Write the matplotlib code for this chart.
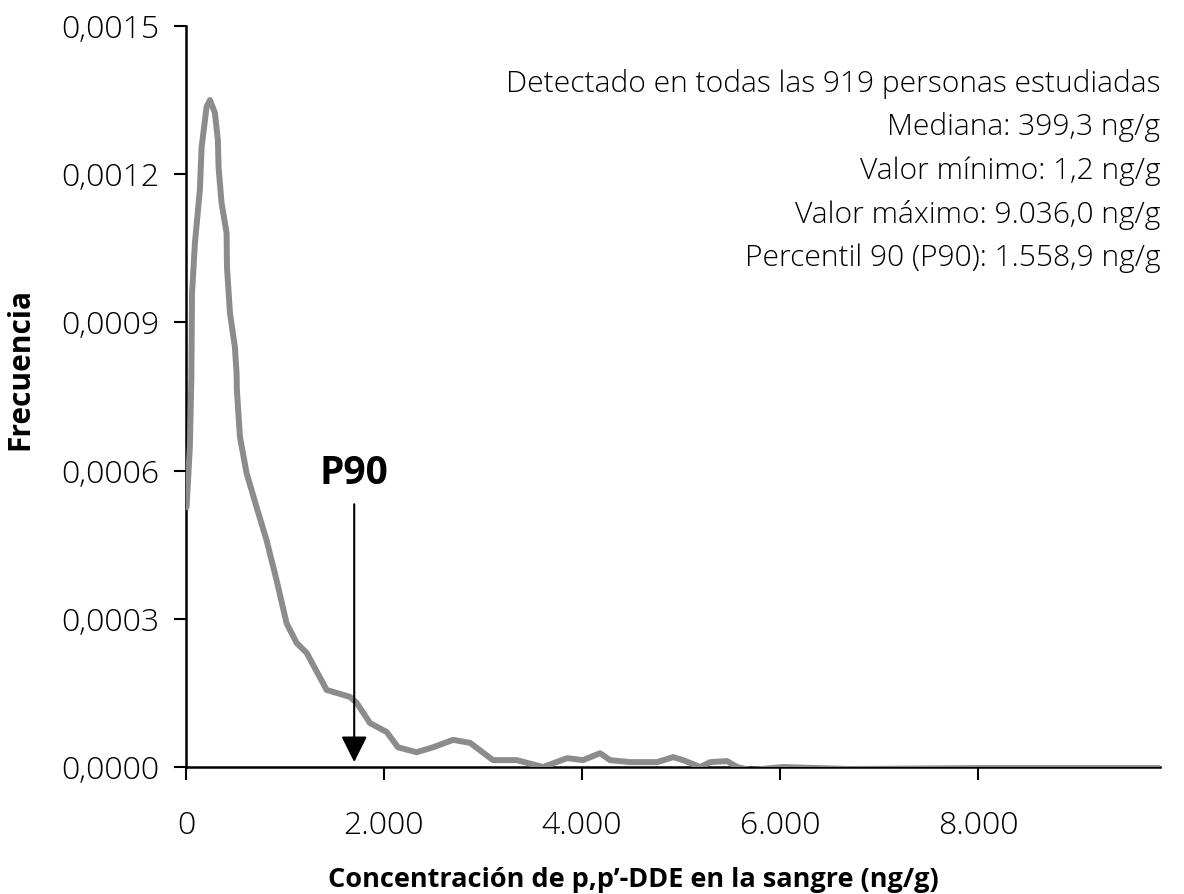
import matplotlib.pyplot as plt
from matplotlib.ticker import FuncFormatter

plt.rcParams['font.family'] = ['Open Sans', 'DejaVu Sans']

# curva de densidad
conc = [7, 40, 55, 62, 91, 141, 159, 209, 243, 293, 323, 330, 360, 411, 415,
        445, 495, 512, 515, 546, 613, 714, 815, 916, 1017, 1119, 1220, 1422,
        1523, 1657, 1725, 1859, 2028, 2142, 2331, 2496, 2698, 2870, 3102, 3341,
        3607, 3850, 4011, 4183, 4284, 4486, 4759, 4921, 5022, 5194, 5295, 5466,
        5567, 5699, 6032, 6709, 8053, 9841]
frec = [0.000526, 0.000648, 0.000783, 0.000959, 0.00106, 0.001168, 0.001255,
        0.001336, 0.00135, 0.001324, 0.001269, 0.001214, 0.001142, 0.001081,
        0.001012, 0.000919, 0.00085, 0.000797, 0.000763, 0.000668, 0.000595,
        0.000526, 0.000459, 0.000378, 0.000291, 0.000251, 0.000231, 0.000156,
        0.00015, 0.000142, 0.00013, 0.000089, 0.000071, 0.00004, 0.00003,
        0.00004, 0.000055, 0.000049, 0.000014, 0.000014, 0.0, 0.000018,
        0.000014, 0.000028, 0.000014, 0.00001, 0.00001, 0.00002, 0.000014,
        0.0, 0.00001, 0.000012, 0.0, -0.000006, 0.0, -0.000004, -0.000002,
        -0.000002]

p90_x = 1700
x_ticks = [0, 2000, 4000, 6000, 8000]
y_ticks = [0, 0.0003, 0.0006, 0.0009, 0.0012, 0.0015]
info = ["Detectado en todas las 919 personas estudiadas",
        "Mediana: 399,3 ng/g",
        "Valor mínimo: 1,2 ng/g",
        "Valor máximo: 9.036,0 ng/g",
        "Percentil 90 (P90): 1.558,9 ng/g"]

fig = plt.figure(figsize=(11.84, 8.94), dpi=100)
ax = fig.add_axes([0.157, 0.142, 0.823, 0.829])

ax.plot(conc, frec, color='#8c8c8c', lw=4.3, solid_capstyle='round',
        solid_joinstyle='round', zorder=3)

ax.set_xlim(0, 9841)
ax.set_ylim(0, 0.0015)
ax.set_xticks(x_ticks)
ax.set_yticks(y_ticks)
ax.xaxis.set_major_formatter(FuncFormatter(lambda v, p: f"{int(v):,}".replace(",", ".")))
ax.yaxis.set_major_formatter(FuncFormatter(lambda v, p: f"{v:.4f}".replace(".", ",")))
ax.tick_params(axis='both', labelsize=23, width=1.5, length=9, color='black')
ax.tick_params(axis='x', pad=22)
ax.tick_params(axis='y', pad=10)
for lab in ax.get_xticklabels() + ax.get_yticklabels():
    lab.set_fontweight('light')

for s in ['top', 'right']:
    ax.spines[s].set_visible(False)
for s in ['left', 'bottom']:
    ax.spines[s].set_linewidth(1.8)
ax.spines['bottom'].set_zorder(2)

ax.set_xlabel("Concentración de p,p’-DDE en la sangre (ng/g)", fontsize=19.5,
              fontweight='bold')
ax.set_ylabel("Frecuencia", fontsize=21.5, fontweight='bold')
ax.xaxis.set_label_coords(0.459, -0.135)
ax.yaxis.set_label_coords(-0.154, 0.537)

# flecha P90
ax.annotate("", xy=(p90_x, 0.00001), xytext=(p90_x, 0.000532),
            arrowprops=dict(arrowstyle='-|>,head_width=0.4,head_length=0.8',
                            mutation_scale=20, color='black', lw=1.5,
                            shrinkA=0, shrinkB=0),
            zorder=5)
ax.text(p90_x, 0.000555, "P90", fontsize=28, fontweight='bold',
        ha='center', va='bottom')

for i, t in enumerate(info):
    ax.text(1.0, 0.922 - i * 0.059, t, transform=ax.transAxes, fontsize=21.6,
            fontweight='light', ha='right', va='center')

fig.savefig("out.png", dpi=100)
